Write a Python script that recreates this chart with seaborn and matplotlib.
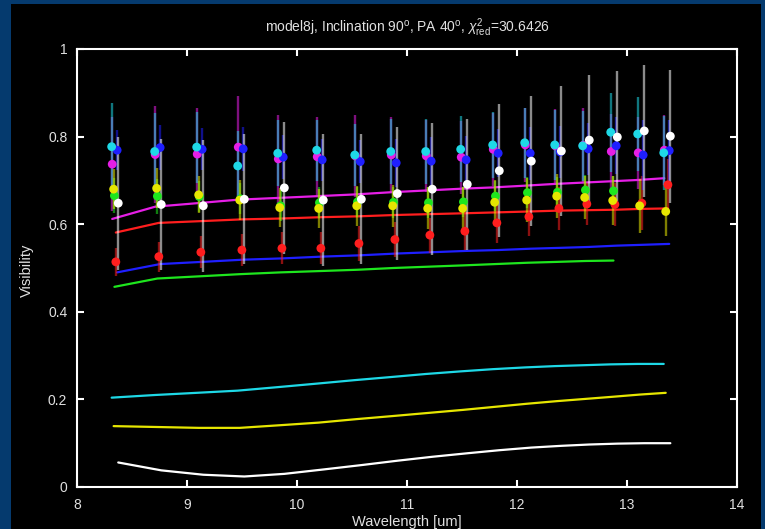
import numpy as np
import pandas as pd
import matplotlib
matplotlib.use("Agg")
import matplotlib.pyplot as plt
import seaborn as sns
from matplotlib.patches import Rectangle

# ---------------- data ----------------
wavelength = [8.345, 8.736, 9.118, 9.491, 9.855, 10.209, 10.555, 10.882, 11.200,
              11.518, 11.809, 12.100, 12.373, 12.627, 12.882, 13.127, 13.364]

series_names = ["magenta", "red", "blue", "green", "cyan", "yellow", "white"]

# observed visibilities
obs_magenta = [0.737, 0.759, 0.760, 0.776, 0.749, 0.754, 0.756, 0.758, 0.756, 0.753, 0.771, 0.781, 0.779, 0.780, 0.766, 0.763, 0.769]
obs_red     = [0.514, 0.526, 0.536, 0.541, 0.545, 0.545, 0.556, 0.565, 0.575, 0.584, 0.603, 0.617, 0.636, 0.646, 0.645, 0.648, 0.690]
obs_blue    = [0.769, 0.775, 0.771, 0.772, 0.753, 0.747, 0.743, 0.740, 0.744, 0.747, 0.762, 0.762, 0.765, 0.772, 0.779, 0.758, 0.768]
obs_green   = [0.665, 0.664, 0.663, 0.658, 0.642, 0.649, 0.651, 0.650, 0.649, 0.651, 0.664, 0.672, 0.673, 0.678, 0.676]
obs_cyan    = [0.777, 0.766, 0.776, 0.733, 0.762, 0.769, 0.758, 0.766, 0.766, 0.771, 0.781, 0.786, 0.781, 0.779, 0.810, 0.806, 0.763]
obs_yellow  = [0.680, 0.682, 0.667, 0.655, 0.638, 0.636, 0.642, 0.642, 0.636, 0.636, 0.650, 0.655, 0.664, 0.661, 0.654, 0.642, 0.629]
obs_white   = [0.648, 0.645, 0.642, 0.657, 0.683, 0.655, 0.657, 0.670, 0.680, 0.691, 0.722, 0.744, 0.767, 0.792, 0.799, 0.813, 0.801]

# observational errors
err_magenta = [0.108, 0.111, 0.105, 0.116, 0.100, 0.091, 0.093, 0.086, 0.083, 0.083, 0.084, 0.084, 0.084, 0.085, 0.085, 0.082, 0.080]
err_red     = [0.032, 0.034, 0.036, 0.036, 0.037, 0.037, 0.040, 0.040, 0.040, 0.042, 0.045, 0.045, 0.050, 0.048, 0.050, 0.061, 0.060]
err_blue    = [0.046, 0.052, 0.048, 0.050, 0.050, 0.048, 0.050, 0.055, 0.055, 0.055, 0.055, 0.060, 0.060, 0.060, 0.065, 0.080, 0.070]
err_green   = [0.040, 0.040, 0.035, 0.035, 0.035, 0.035, 0.035, 0.035, 0.035, 0.035, 0.035, 0.035, 0.035, 0.035, 0.035]
err_cyan    = [0.099, 0.088, 0.081, 0.080, 0.075, 0.070, 0.070, 0.075, 0.075, 0.075, 0.075, 0.080, 0.080, 0.080, 0.090, 0.085, 0.085]
err_yellow  = [0.045, 0.046, 0.042, 0.045, 0.045, 0.045, 0.045, 0.048, 0.048, 0.050, 0.050, 0.050, 0.050, 0.050, 0.055, 0.062, 0.057]
err_white   = [0.152, 0.149, 0.150, 0.148, 0.150, 0.150, 0.149, 0.151, 0.151, 0.150, 0.152, 0.148, 0.149, 0.149, 0.151, 0.150, 0.152]

# model visibilities
mod_magenta = [0.612, 0.640, 0.648, 0.656, 0.660, 0.664, 0.668, 0.673, 0.677, 0.681, 0.684, 0.688, 0.692, 0.695, 0.698, 0.701, 0.705]
mod_red     = [0.581, 0.603, 0.607, 0.611, 0.613, 0.616, 0.618, 0.621, 0.623, 0.625, 0.627, 0.629, 0.631, 0.632, 0.633, 0.635, 0.636]
mod_blue    = [0.490, 0.509, 0.514, 0.519, 0.522, 0.526, 0.529, 0.533, 0.536, 0.539, 0.541, 0.544, 0.546, 0.548, 0.551, 0.553, 0.555]
mod_green   = [0.457, 0.476, 0.481, 0.486, 0.490, 0.493, 0.496, 0.500, 0.503, 0.506, 0.509, 0.512, 0.514, 0.516, 0.517]
mod_cyan    = [0.204, 0.210, 0.215, 0.220, 0.228, 0.236, 0.244, 0.251, 0.258, 0.264, 0.269, 0.273, 0.276, 0.278, 0.280, 0.281, 0.281]
mod_yellow  = [0.139, 0.137, 0.135, 0.135, 0.141, 0.147, 0.155, 0.162, 0.169, 0.176, 0.183, 0.190, 0.196, 0.201, 0.206, 0.211, 0.215]
mod_white   = [0.056, 0.038, 0.028, 0.024, 0.030, 0.040, 0.050, 0.060, 0.069, 0.077, 0.084, 0.090, 0.094, 0.097, 0.099, 0.100, 0.100]

x_ticks = [8, 9, 10, 11, 12, 13, 14]
y_ticks = [0, 0.2, 0.4, 0.6, 0.8, 1]
y_tick_labels = ["0", "0.2", "0.4", "0.6", "0.8", "1"]
title_text = "model8j, Inclination 90$^{\\rm o}$, PA 40$^{\\rm o}$, $\\chi^{2}_{\\rm red}$=30.6426"

# ---------------- style ----------------
colors = {"magenta": "#e61ee6", "red": "#ff1e1e", "blue": "#1f1fff", "green": "#1ee61e",
          "cyan": "#1ed8e6", "yellow": "#e6e600", "white": "#ffffff"}
dodge = {"magenta": -0.025, "red": 0.008, "blue": 0.02, "green": -0.005,
         "cyan": -0.03, "yellow": -0.012, "white": 0.03}

obs = {"magenta": obs_magenta, "red": obs_red, "blue": obs_blue, "green": obs_green,
       "cyan": obs_cyan, "yellow": obs_yellow, "white": obs_white}
err = {"magenta": err_magenta, "red": err_red, "blue": err_blue, "green": err_green,
       "cyan": err_cyan, "yellow": err_yellow, "white": err_white}
mod = {"magenta": mod_magenta, "red": mod_red, "blue": mod_blue, "green": mod_green,
       "cyan": mod_cyan, "yellow": mod_yellow, "white": mod_white}

rows_obs, rows_mod = [], []
for s in series_names:
    for i, v in enumerate(obs[s]):
        rows_obs.append({"series": s, "x": wavelength[i] + dodge[s], "v": v, "e": err[s][i]})
    for i, v in enumerate(mod[s]):
        rows_mod.append({"series": s, "x": wavelength[i] + dodge[s], "v": v})
df_obs = pd.DataFrame(rows_obs)
df_mod = pd.DataFrame(rows_mod)

sns.set_theme(style="dark")
plt.rcParams["font.family"] = ["Liberation Sans", "DejaVu Sans"]
plt.rcParams["mathtext.fontset"] = "custom"
plt.rcParams["mathtext.rm"] = "Liberation Sans"
plt.rcParams["mathtext.it"] = "Liberation Sans:italic"
plt.rcParams["mathtext.bf"] = "Liberation Sans:bold"

NAVY = "#053a6e"
TXT = "#e0e0e0"
W, H = 765, 529
fig = plt.figure(figsize=(W / 100, H / 100), dpi=100, facecolor=NAVY)
fig.add_artist(Rectangle((11 / W, 0), 750 / W, 525 / H, transform=fig.transFigure,
                         facecolor="black", edgecolor="none", zorder=-10))
ax = fig.add_axes([77 / W, 42 / H, 660 / W, 438 / H])
ax.set_facecolor("black")

# model curves
sns.lineplot(data=df_mod, x="x", y="v", hue="series", palette=colors, estimator=None,
             sort=False, legend=False, linewidth=1.6, ax=ax, zorder=2)

# error bars
for s in series_names:
    d = df_obs[df_obs["series"] == s]
    ax.errorbar(d["x"], d["v"], yerr=d["e"], fmt="none", ecolor=colors[s],
                elinewidth=1.7, alpha=0.55, capsize=0, zorder=3)

# observed points
sns.scatterplot(data=df_obs, x="x", y="v", hue="series", palette=colors, s=40,
                linewidth=0, legend=False, ax=ax, zorder=4)

ax.set_xlim(8, 14)
ax.set_ylim(0, 1)
ax.set_xticks(x_ticks)
ax.set_xticklabels([str(t) for t in x_ticks])
ax.set_yticks(y_ticks)
ax.set_yticklabels(y_tick_labels)
ax.grid(False)
for sp in ax.spines.values():
    sp.set_visible(True)
    sp.set_color("white")
    sp.set_linewidth(1.5)
ax.tick_params(axis="both", which="both", direction="in", length=5, width=1.5,
               color="white", labelcolor=TXT, labelsize=10,
               top=True, right=True, bottom=True, left=True)
ax.tick_params(axis="x", pad=8)
ax.tick_params(axis="y", pad=7)

ax.set_xlabel("Wavelength [um]", color=TXT, fontsize=10.5)
ax.set_ylabel("Visibility", color=TXT, fontsize=10.5)
ax.xaxis.set_label_coords(0.5, -(515 - 487) / 438)
ax.yaxis.set_label_coords(-(77 - 34) / 660, (487 - 270) / 438)

ax.text(0.5, (487 - 31.5) / 438, title_text, transform=ax.transAxes, ha="center",
        va="baseline", color=TXT, fontsize=10)

fig.savefig("out.png", dpi=100, facecolor=NAVY)
